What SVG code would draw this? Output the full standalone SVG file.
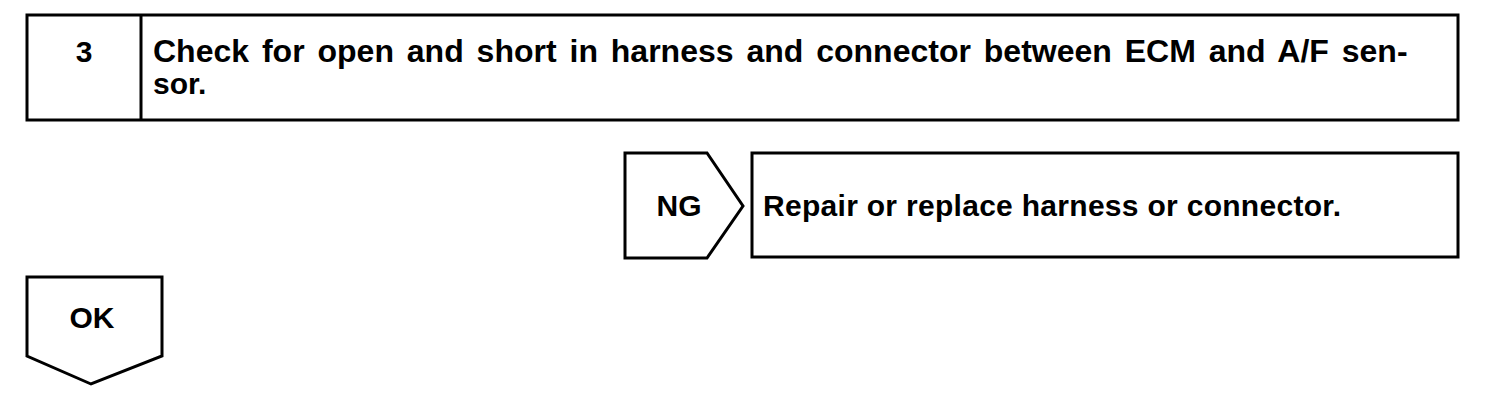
<svg xmlns="http://www.w3.org/2000/svg" width="1504" height="400" viewBox="0 0 1504 400">
<style>
.s{fill:#fff;stroke:#000;stroke-width:3;stroke-linejoin:miter}
.t{font-family:"Liberation Sans",Arial,sans-serif;font-weight:bold;font-size:30px;fill:#000}
.c{text-anchor:middle}
</style>
<rect width="1504" height="400" fill="#fff"/>
<g id="step3">
<rect class="s" x="27" y="15" width="1431" height="105"/>
<line class="s" x1="141" y1="15" x2="141" y2="120"/>
<text class="t c" x="84" y="62">3</text>
<text class="t" x="153" y="62" style="font-size:32px;word-spacing:4px">Check for open and short in harness and connector between ECM and A/F sen-</text>
<text class="t" x="153" y="94">sor.</text>
</g>
<g id="ng">
<path class="s" d="M625,153 H707 L743,206 L707,258 H625 Z"/>
<text class="t c" x="679" y="216">NG</text>
</g>
<g id="repair">
<rect class="s" x="752" y="153" width="706" height="104"/>
<text class="t" x="763" y="216" textLength="578" lengthAdjust="spacing">Repair or replace harness or connector.</text>
</g>
<g id="ok">
<path class="s" d="M27,277 H162 V356 L91,384 L27,356 Z"/>
<text class="t c" x="92" y="328">OK</text>
</g>
<g id="connectors"></g>
</svg>
